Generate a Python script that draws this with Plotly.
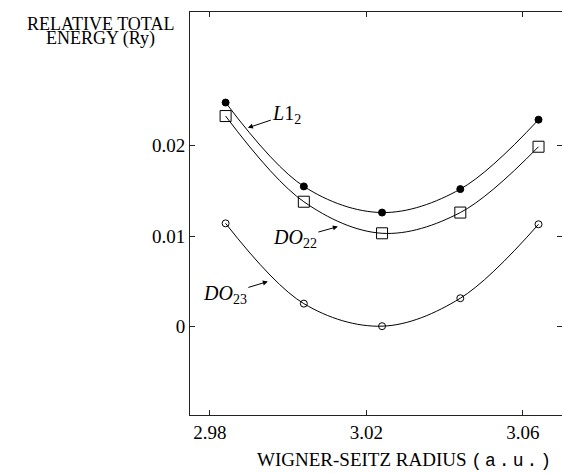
import plotly.graph_objects as go

radius = [2.984, 3.004, 3.024, 3.044, 3.064]
e_L12 = [0.0248, 0.0155, 0.0126, 0.0152, 0.0229]
e_DO22 = [0.0233, 0.0138, 0.0103, 0.0126, 0.0199]
e_DO23 = [0.0114, 0.0025, 0.0000, 0.0031, 0.0113]
x_ticks = [2.98, 3.02, 3.06]
x_ticklabels = ["2.98", "3.02", "3.06"]
y_ticks = [0, 0.01, 0.02]
y_ticklabels = ["0", "0.01", "0.02"]

SERIF = "Liberation Serif, Times New Roman, serif"

fig = go.Figure()
series = [
    (e_L12, "circle", 7),
    (e_DO22, "square-open", 11),
    (e_DO23, "circle-open", 7),
]
for ys, sym, sz in series:
    fig.add_trace(go.Scatter(
        x=radius, y=ys, mode="lines+markers",
        line=dict(color="black", width=1, shape="spline", smoothing=1.0),
        marker=dict(symbol=sym, size=sz, color="black", line=dict(color="black", width=1)),
        showlegend=False, hoverinfo="skip",
    ))

axis_common = dict(
    showgrid=False, zeroline=False, showline=True, linecolor="#222", linewidth=1,
    mirror="ticks", ticks="inside", ticklen=5, tickcolor="#222", tickwidth=1,
    tickfont=dict(family=SERIF, size=19, color="black"),
)
fig.update_xaxes(range=[2.9749, 3.0700], tickvals=x_ticks, ticktext=x_ticklabels, **axis_common)
fig.update_yaxes(range=[-0.00985, 0.03484], tickvals=y_ticks, ticktext=y_ticklabels, **axis_common)

ann_font = dict(family=SERIF, size=20, color="black")
arrow = dict(showarrow=True, arrowhead=2, arrowsize=1, arrowwidth=1, arrowcolor="black", standoff=0)
fig.add_annotation(x=2.9897, y=0.0220, ax=39, ay=-13, text="<i>L</i>1<sub>2</sub>", font=ann_font, **arrow)
fig.add_annotation(x=3.0127, y=0.01104, ax=-43, ay=12, text="<i>DO</i><sub>22</sub>", font=ann_font, **arrow)
fig.add_annotation(x=2.9948, y=0.00495, ax=-43, ay=13, text="<i>DO</i><sub>23</sub>", font=ann_font, **arrow)

title_font = dict(family=SERIF, size=18, color="black")
fig.add_annotation(xref="paper", yref="paper", x=(100.5 - 190) / 372, y=(415.5 - 24) / 403.5, text="RELATIVE TOTAL",
                   showarrow=False, font=title_font, xanchor="center", yanchor="middle")
fig.add_annotation(xref="paper", yref="paper", x=(100.5 - 190) / 372, y=(415.5 - 39) / 403.5, text="ENERGY (Ry)",
                   showarrow=False, font=title_font, xanchor="center", yanchor="middle")
fig.add_annotation(xref="paper", yref="paper", x=(405 - 190) / 372, y=(415.5 - 461) / 403.5,
                   text="WIGNER-SEITZ RADIUS <span style=\"font-family:Liberation Mono, monospace; font-size:18px; letter-spacing:3px\">(a.u.)</span>",
                   showarrow=False, font=dict(family=SERIF, size=19, color="black"), xanchor="center", yanchor="middle")

fig.update_layout(
    width=562, height=473,
    margin=dict(l=190, r=0, t=12, b=57.5),
    plot_bgcolor="white", paper_bgcolor="white",
)
fig.write_html("out.html", config={"displayModeBar": False})

with open("out.html", "r", encoding="utf-8") as f:
    html = f.read()
html = html.replace("<head>", "<head><style>html,body{margin:0;padding:0;overflow:hidden;}</style>", 1)
with open("out.html", "w", encoding="utf-8") as f:
    f.write(html)
